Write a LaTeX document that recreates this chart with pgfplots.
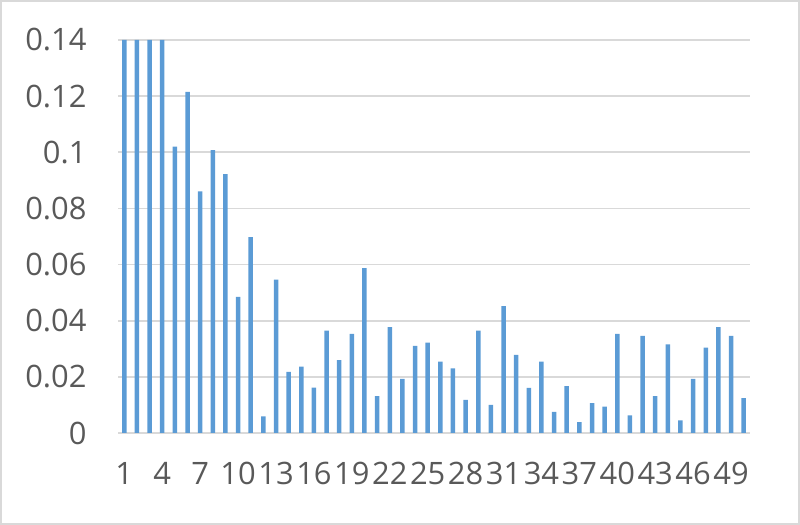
\documentclass[border=0pt]{standalone}
\usepackage{pgfplots}
\pgfplotsset{compat=1.18}
\usepackage{fontspec}
\setmainfont{Open Sans}
\definecolor{barblue}{HTML}{5B9BD5}
\definecolor{gridgray}{HTML}{D9D9D9}
\definecolor{labelgray}{HTML}{595959}
\begin{document}
\begin{tikzpicture}[x=1bp,y=1bp]
% chart area frame
\draw[gridgray, line width=2bp, use as bounding box] (1,1) rectangle (799,524);
\begin{axis}[
    at={(118bp,92bp)}, anchor=south west,
    scale only axis,
    width=632bp, height=393bp,
    ybar, bar width=4.5bp,
    xmin=0.5, xmax=50.5,
    ymin=0, ymax=0.14,
    xtick={1,4,...,49},
    ytick={0,0.02,...,0.14},
    major tick length=0,
    axis line style={draw=none},
    ymajorgrids=true,
    grid style={gridgray, line width=1.6bp},
    /pgf/number format/fixed,
    /pgf/number format/precision=2,
    /pgf/number format/assume math mode=true,
    tick label style={font=\fontsize{31}{36}\selectfont, text=labelgray},
    xticklabel style={yshift=-26bp},
    yticklabel style={xshift=-28bp},
]
\addplot[fill=barblue, draw=none] coordinates {
 (1,0.14) (2,0.14) (3,0.14) (4,0.14) (5,0.102)
 (6,0.1215) (7,0.0861) (8,0.1008) (9,0.0922) (10,0.0485)
 (11,0.0698) (12,0.0059) (13,0.0546) (14,0.0218) (15,0.0236)
 (16,0.0162) (17,0.0365) (18,0.026) (19,0.0353) (20,0.0587)
 (21,0.0131) (22,0.0377) (23,0.0193) (24,0.031) (25,0.0322)
 (26,0.0254) (27,0.023) (28,0.0118) (29,0.0365) (30,0.0100)
 (31,0.0452) (32,0.0278) (33,0.0161) (34,0.0254) (35,0.0075)
 (36,0.0167) (37,0.0039) (38,0.0106) (39,0.0094) (40,0.0353)
 (41,0.0063) (42,0.0346) (43,0.0131) (44,0.0316) (45,0.0045)
 (46,0.0193) (47,0.0304) (48,0.0377) (49,0.0346) (50,0.0124)
};
\end{axis}
\end{tikzpicture}
\end{document}
